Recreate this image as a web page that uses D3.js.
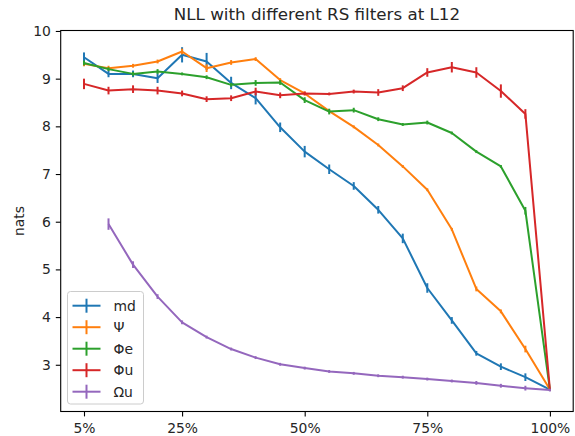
<!DOCTYPE html>
<html>
<head>
<meta charset="utf-8">
<script src="https://cdn.jsdelivr.net/npm/d3@7"></script>
<style>
  html, body { margin: 0; padding: 0; background: #ffffff; }
  svg { display: block; font-family: "DejaVu Sans", sans-serif; }
</style>
</head>
<body>
<svg id="chart" width="575" height="436"></svg>
<script>
// ---- data ----
const xPct = [5,10,15,20,25,30,35,40,45,50,55,60,65,70,75,80,85,90,95,100];
const xPctOmega = [10,15,20,25,30,35,40,45,50,55,60,65,70,75,80,85,90,95,100];

const md     = [9.45, 9.10, 9.10, 9.01, 9.50, 9.36, 8.91, 8.59, 7.98, 7.47, 7.10, 6.75, 6.25, 5.65, 4.61, 3.93, 3.24, 2.96, 2.74, 2.48];
const mdErr  = [0.10, 0.07, 0.07, 0.10, 0.16, 0.18, 0.13, 0.13, 0.10, 0.12, 0.10, 0.08, 0.08, 0.10, 0.10, 0.07, 0.05, 0.07, 0.08, 0.03];

const psi    = [9.31, 9.22, 9.27, 9.36, 9.57, 9.22, 9.34, 9.41, 8.97, 8.69, 8.32, 7.99, 7.61, 7.16, 6.67, 5.84, 4.59, 4.12, 3.33, 2.48];
const psiErr = [0.05, 0.05, 0.04, 0.04, 0.06, 0.08, 0.05, 0.04, 0.04, 0.04, 0.03, 0.03, 0.03, 0.03, 0.03, 0.03, 0.05, 0.04, 0.07, 0.03];

const phiE    = [9.33, 9.20, 9.10, 9.15, 9.10, 9.03, 8.87, 8.91, 8.92, 8.55, 8.31, 8.34, 8.15, 8.04, 8.08, 7.86, 7.47, 7.16, 6.23, 2.48];
const phiEErr = [0.05, 0.04, 0.04, 0.05, 0.03, 0.04, 0.04, 0.06, 0.05, 0.06, 0.06, 0.05, 0.04, 0.03, 0.04, 0.03, 0.03, 0.03, 0.08, 0.02];

const phiU    = [8.89, 8.75, 8.78, 8.75, 8.69, 8.57, 8.59, 8.73, 8.65, 8.69, 8.68, 8.73, 8.71, 8.80, 9.13, 9.24, 9.13, 8.74, 8.26, 2.48];
const phiUErr = [0.11, 0.08, 0.08, 0.08, 0.06, 0.06, 0.06, 0.08, 0.06, 0.04, 0.03, 0.04, 0.07, 0.06, 0.09, 0.11, 0.11, 0.14, 0.10, 0.02];

const omegaU    = [5.95, 5.10, 4.43, 3.89, 3.58, 3.33, 3.15, 3.01, 2.93, 2.86, 2.82, 2.77, 2.74, 2.70, 2.66, 2.62, 2.56, 2.51, 2.47];
const omegaUErr = [0.12, 0.07, 0.05, 0.04, 0.03, 0.03, 0.03, 0.03, 0.03, 0.03, 0.03, 0.03, 0.03, 0.03, 0.03, 0.04, 0.04, 0.05, 0.03];

const seriesNames = ["md", "Ψ", "Φe", "Φu", "Ωu"];
const seriesColors = ["#1f77b4", "#ff7f0e", "#2ca02c", "#d62728", "#9467bd"];
const xTicks = [5, 25, 50, 75, 100];
const xTickLabels = ["5%", "25%", "50%", "75%", "100%"];
const yTicks = [3, 4, 5, 6, 7, 8, 9, 10];
const titleText = "NLL with different RS filters at L12";
const yLabel = "nats";

const series = [
  { name: seriesNames[0], color: seriesColors[0], xs: xPct, ys: md, err: mdErr },
  { name: seriesNames[1], color: seriesColors[1], xs: xPct, ys: psi, err: psiErr },
  { name: seriesNames[2], color: seriesColors[2], xs: xPct, ys: phiE, err: phiEErr },
  { name: seriesNames[3], color: seriesColors[3], xs: xPct, ys: phiU, err: phiUErr },
  { name: seriesNames[4], color: seriesColors[4], xs: xPctOmega, ys: omegaU, err: omegaUErr },
];

// ---- layout ----
const L = 60.7, R = 573.2, T = 30.5, B = 411.5;
const svg = d3.select("#chart");

const x = d3.scaleLinear().domain([0.25, 104.75]).range([L, R]);
const y = d3.scaleLinear().domain([2.02, 10.01]).range([B, T]);

const lw = 2.0;

// series
const line = d3.line().x(d => x(d[0])).y(d => y(d[1]));
const plot = svg.append("g");
series.forEach(s => {
  const g = plot.append("g");
  const pts = s.xs.map((xv, i) => [xv, s.ys[i], s.err[i]]);
  g.append("path")
    .attr("d", line(pts))
    .attr("fill", "none")
    .attr("stroke", s.color)
    .attr("stroke-width", lw)
    .attr("stroke-linejoin", "round");
  g.selectAll("line.err").data(pts).enter().append("line")
    .attr("x1", d => x(d[0])).attr("x2", d => x(d[0]))
    .attr("y1", d => y(d[1] - d[2])).attr("y2", d => y(d[1] + d[2]))
    .attr("stroke", s.color)
    .attr("stroke-width", lw);
});

// axes
const fs = 13.9;
const xAxis = d3.axisBottom(x).tickValues(xTicks).tickFormat((d, i) => xTickLabels[i]).tickSize(4.9).tickPadding(4.9);
const gx = svg.append("g").attr("transform", `translate(0,${B})`).call(xAxis);
const yAxis = d3.axisLeft(y).tickValues(yTicks).tickFormat(d3.format("d")).tickSize(4.9).tickPadding(4.9);
const gy = svg.append("g").attr("transform", `translate(${L},0)`).call(yAxis);
[gx, gy].forEach(g => {
  g.select(".domain").remove();
  g.selectAll(".tick line").attr("stroke", "#000").attr("stroke-width", 1.1);
  g.selectAll(".tick text").attr("fill", "#262626")
    .style("font-family", "DejaVu Sans").style("font-size", fs + "px");
});
gx.selectAll(".tick text").attr("dy", null).attr("y", 21.5);

// frame
svg.append("rect")
  .attr("x", L).attr("y", T).attr("width", R - L).attr("height", B - T)
  .attr("fill", "none").attr("stroke", "#000").attr("stroke-width", 1.1);

// title
svg.append("text")
  .attr("x", (L + R) / 2).attr("y", 20)
  .attr("text-anchor", "middle")
  .style("font-size", "16.7px").attr("fill", "#262626")
  .text(titleText);

// y label
svg.append("text")
  .attr("transform", `translate(23.5,${(T + B) / 2}) rotate(-90)`)
  .attr("text-anchor", "middle")
  .style("font-size", fs + "px").attr("fill", "#262626")
  .text(yLabel);

// legend
const lgX = 67.5, lgY = 291.5, lgW = 76, lgH = 112.5;
const lg = svg.append("g");
lg.append("rect")
  .attr("x", lgX).attr("y", lgY).attr("width", lgW).attr("height", lgH)
  .attr("rx", 3).attr("ry", 3)
  .attr("fill", "#ffffff").attr("fill-opacity", 0.8)
  .attr("stroke", "#cccccc").attr("stroke-width", 1);
series.forEach((s, i) => {
  const cy = 305.7 + i * 21.5;
  lg.append("line").attr("x1", 72.5).attr("x2", 100.5).attr("y1", cy).attr("y2", cy)
    .attr("stroke", s.color).attr("stroke-width", lw);
  lg.append("line").attr("x1", 86.5).attr("x2", 86.5).attr("y1", cy - 7).attr("y2", cy + 7)
    .attr("stroke", s.color).attr("stroke-width", lw);
  lg.append("text").attr("x", 113.5).attr("y", cy).attr("dy", "0.36em")
    .style("font-size", fs + "px").attr("fill", "#262626")
    .text(s.name);
});
</script>
</body>
</html>
